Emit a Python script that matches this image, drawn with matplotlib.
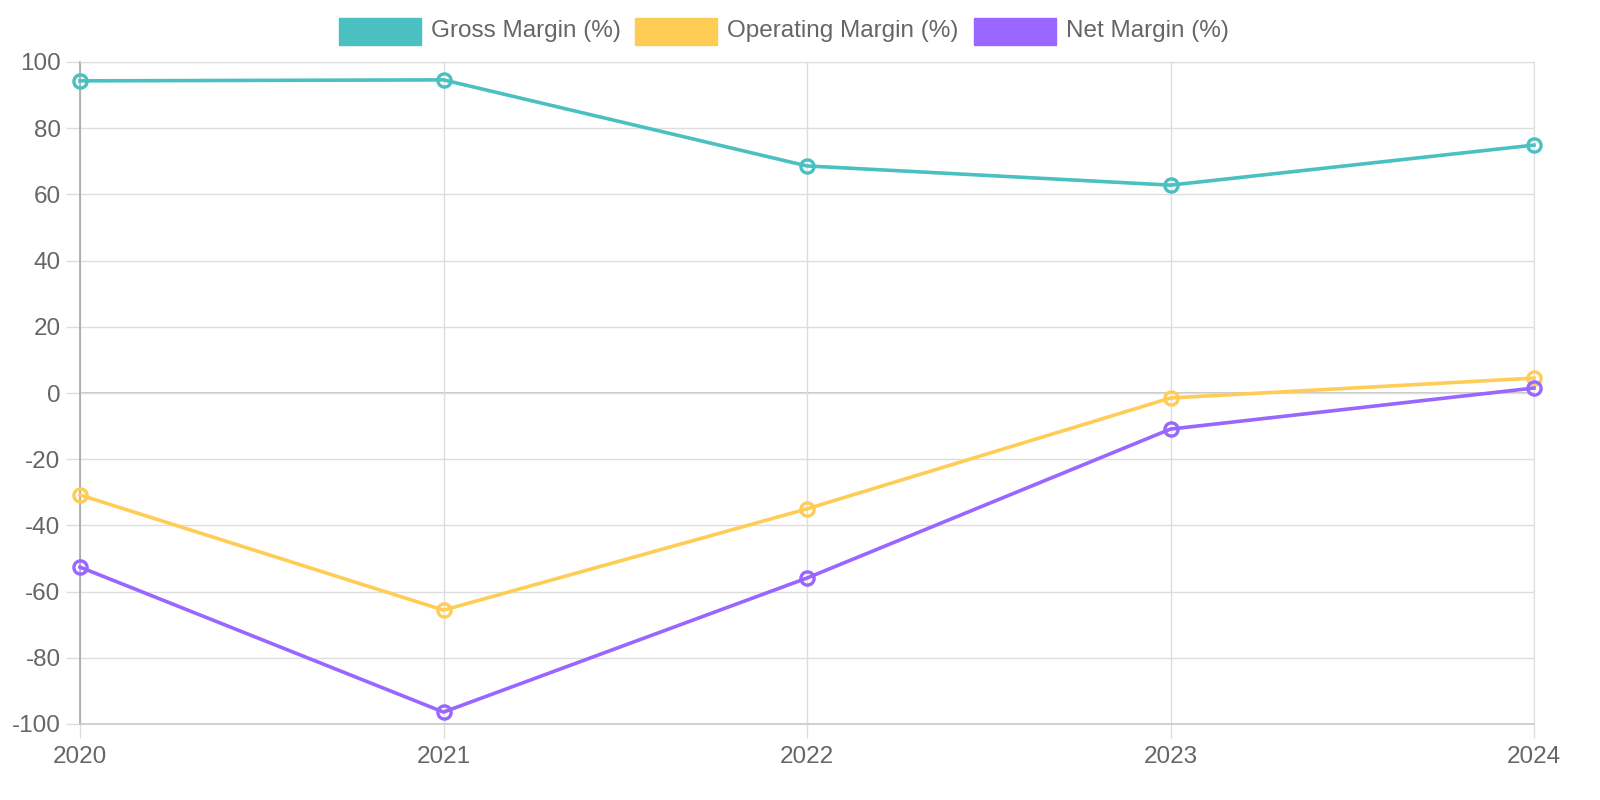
import matplotlib
matplotlib.use("Agg")
import matplotlib.pyplot as plt
from matplotlib.patches import Rectangle

# dados
anos = [2020, 2021, 2022, 2023, 2024]
margem_bruta = [94.3, 94.6, 68.6, 62.8, 74.9]
margem_operacional = [-30.8, -65.6, -35.0, -1.5, 4.5]
margem_liquida = [-52.6, -96.4, -55.9, -10.9, 1.5]

series = [
    ("Gross Margin (%)", margem_bruta, "#4BC0C0"),
    ("Operating Margin (%)", margem_operacional, "#FFCD56"),
    ("Net Margin (%)", margem_liquida, "#9966FF"),
]

plt.rcParams["font.family"] = ["Liberation Sans", "DejaVu Sans"]
plt.rcParams["axes.unicode_minus"] = False
TXT = "#666666"
GRID = "#dddddd"

fig = plt.figure(figsize=(16, 8), dpi=100)
ax = fig.add_axes([80 / 1600, 1 - 724 / 800, (1534 - 80) / 1600, (724 - 62) / 800])

for nome, valores, cor in series:
    ax.plot(anos, valores, color=cor, lw=2.6, marker="o", ms=9.5,
            mfc="none", mec=cor, mew=2.4, zorder=3, clip_on=False)

ax.set_xlim(anos[0], anos[-1])
ax.set_ylim(-100, 100)
ax.set_xticks(anos)
ax.set_yticks(range(-100, 101, 20))
ax.grid(True, color=GRID, lw=1)
ax.axhline(0, color="#bdbdbd", lw=1.2, zorder=1)
ax.tick_params(axis="both", colors=GRID, labelcolor=TXT, labelsize=17.5,
               length=10, width=1)
ax.tick_params(axis="y", pad=4)
ax.tick_params(axis="x", pad=6)

for lado in ["top", "right"]:
    ax.spines[lado].set_color(GRID)
ax.spines["left"].set_color("#a8a8a8")
ax.spines["bottom"].set_color("#c8c8c8")
ax.spines["left"].set_linewidth(1.2)
ax.spines["bottom"].set_linewidth(1.2)

# legenda manual no topo, no estilo Chart.js
pos_caixas = [339, 635, 974]
for (nome, _, cor), x0 in zip(series, pos_caixas):
    fig.patches.append(Rectangle((x0 / 1600, 1 - 45 / 800), 82 / 1600, 27 / 800,
                                 transform=fig.transFigure, color=cor))
    fig.text((x0 + 92) / 1600, 1 - 31.5 / 800, nome, color=TXT, fontsize=17.5,
             va="center", ha="left")

fig.savefig("out.png", dpi=100)
plt.close(fig)
